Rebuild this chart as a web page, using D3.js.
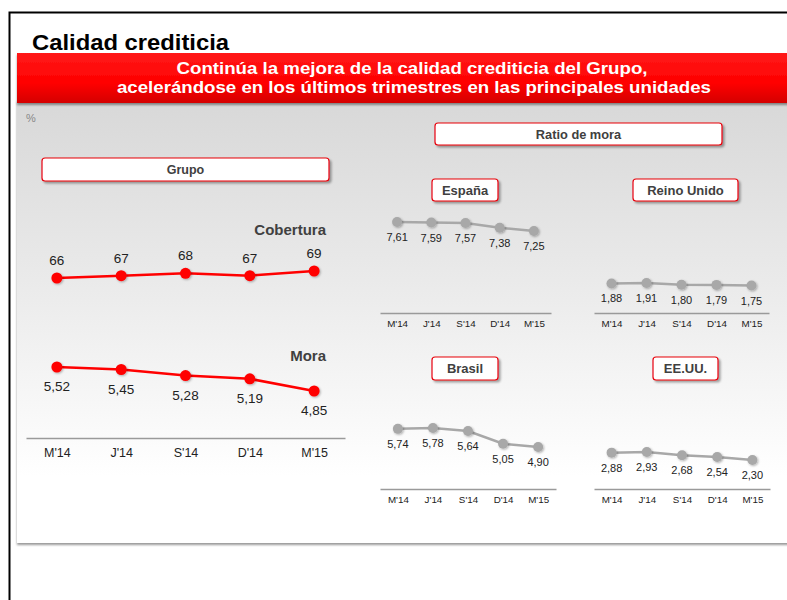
<!DOCTYPE html>
<html><head><meta charset="utf-8">
<script src="https://cdn.jsdelivr.net/npm/d3@7"></script>
<style>body{margin:0;background:#fff}svg{display:block;font-family:Arial,"Liberation Sans",sans-serif}</style>
</head><body>
<svg id="c" width="787" height="600"></svg>
<script>
const quarters = ["M'14","J'14","S'14","D'14","M'15"];
const grupoCobertura = [66,67,68,67,69];
const grupoMora = [5.52,5.45,5.28,5.19,4.85];
const espana = [7.61,7.59,7.57,7.38,7.25];
const reinoUnido = [1.88,1.91,1.80,1.79,1.75];
const brasil = [5.74,5.78,5.64,5.05,4.90];
const eeuu = [2.88,2.93,2.68,2.54,2.30];

const fmt2 = d3.formatLocale({decimal:",",thousands:".",grouping:[3],currency:["","€"]}).format(".2f");
const fmt0 = d3.format("d");

const svg = d3.select("#c");
const defs = svg.append("defs");
const gGray = defs.append("linearGradient").attr("id","gpanel").attr("x1",0).attr("y1",0).attr("x2",0).attr("y2",1);
gGray.append("stop").attr("offset","0%").attr("stop-color","#d8d8d8");
gGray.append("stop").attr("offset","45%").attr("stop-color","#ececec");
gGray.append("stop").attr("offset","85%").attr("stop-color","#ffffff");
gGray.append("stop").attr("offset","100%").attr("stop-color","#ffffff");
const gRed = defs.append("linearGradient").attr("id","gred").attr("x1",0).attr("y1",0).attr("x2",0).attr("y2",1);
gRed.append("stop").attr("offset","0%").attr("stop-color","#ff1a1a");
gRed.append("stop").attr("offset","60%").attr("stop-color","#ff0000");
gRed.append("stop").attr("offset","100%").attr("stop-color","#d40000");
const sh = defs.append("filter").attr("id","sh").attr("x","-10%").attr("y","-30%").attr("width","130%").attr("height","180%");
sh.append("feDropShadow").attr("dx",2).attr("dy",2).attr("stdDeviation",1.2).attr("flood-color","#000").attr("flood-opacity",0.35);
const sh2 = defs.append("filter").attr("id","sh2").attr("x","-5%").attr("y","-5%").attr("width","110%").attr("height","115%");
sh2.append("feDropShadow").attr("dx",0).attr("dy",2).attr("stdDeviation",1.2).attr("flood-color","#000").attr("flood-opacity",0.4);
const shd = defs.append("filter").attr("id","shd").attr("x","-50%").attr("y","-50%").attr("width","200%").attr("height","200%");
shd.append("feDropShadow").attr("dx",1).attr("dy",1).attr("stdDeviation",0.8).attr("flood-color","#000").attr("flood-opacity",0.3);

// frame
svg.append("rect").attr("x",9.5).attr("y",12.5).attr("width",800).attr("height",600).attr("fill","none").attr("stroke","#000").attr("stroke-width",2);
svg.append("text").attr("x",32).attr("y",50).attr("font-size",22).attr("font-weight","bold").attr("fill","#000")
  .attr("textLength",197).attr("lengthAdjust","spacingAndGlyphs").text("Calidad crediticia");

// gray panel
svg.append("rect").attr("x",17).attr("y",100).attr("width",780).attr("height",443).attr("fill","url(#gpanel)").attr("filter","url(#sh2)");
// red banner
svg.append("rect").attr("x",17).attr("y",53).attr("width",780).attr("height",50).attr("fill","url(#gred)").attr("filter","url(#sh2)");
svg.append("text").attr("x",412).attr("y",74).attr("text-anchor","middle").attr("font-size",16).attr("font-weight","bold").attr("fill","#fff")
  .attr("textLength",471).attr("lengthAdjust","spacingAndGlyphs").text("Continúa la mejora de la calidad crediticia del Grupo,");
svg.append("text").attr("x",414).attr("y",93).attr("text-anchor","middle").attr("font-size",16).attr("font-weight","bold").attr("fill","#fff")
  .attr("textLength",594).attr("lengthAdjust","spacingAndGlyphs").text("acelerándose en los últimos trimestres en las principales unidades");
svg.append("text").attr("x",26).attr("y",122).attr("font-size",11).attr("fill","#888").text("%");

function box(x,y,w,h,label,fs){
  svg.append("rect").attr("x",x).attr("y",y).attr("width",w).attr("height",h).attr("rx",3)
    .attr("fill","#fff").attr("stroke","#e8000d").attr("stroke-width",1.2).attr("filter","url(#sh)");
  svg.append("text").attr("x",x+w/2).attr("y",y+h/2+fs*0.36).attr("text-anchor","middle")
    .attr("font-size",fs).attr("font-weight","bold").attr("fill","#404040").text(label);
}
box(42,158,287,23,"Grupo",12.5);
box(435,123,287,22,"Ratio de mora",12.8);
box(432,179,66,22,"España",13);
box(633,179,105,22,"Reino Unido",13);
box(432,357,66,23,"Brasil",13);
box(653,357,65,23,"EE.UU.",13);

function axis(x, y, fs, dy){
  const g = svg.append("g").attr("transform",`translate(0,${y})`)
    .call(d3.axisBottom(x).tickSize(0).tickSizeOuter(0).tickPadding(dy));
  g.select(".domain").attr("stroke","#9a9a9a").attr("stroke-width",1.5);
  g.selectAll("text").attr("font-size",fs).attr("fill","#222").attr("font-family","Arial,'Liberation Sans',sans-serif");
}

function series(x, y, data, color, lw, r, fs, dyLabel, fmt){
  const line = d3.line().x((d,i)=>x(quarters[i])).y(d=>y(d));
  svg.append("path").datum(data).attr("d",line).attr("fill","none").attr("stroke",color).attr("stroke-width",lw);
  svg.append("g").selectAll("circle").data(data).join("circle")
    .attr("cx",(d,i)=>x(quarters[i])).attr("cy",d=>y(d)).attr("r",r).attr("fill",color).attr("filter","url(#shd)");
  svg.append("g").selectAll("text").data(data).join("text")
    .attr("x",(d,i)=>x(quarters[i])).attr("y",d=>y(d)+dyLabel).attr("text-anchor","middle")
    .attr("font-size",fs).attr("fill","#222").text(d=>fmt(d));
}

// Grupo
const xG = d3.scalePoint().domain(quarters).range([26,345]).padding(0.48);
const yCob = d3.scaleLinear().domain(d3.extent(grupoCobertura)).range([278,271]);
const yMora = d3.scaleLinear().domain(d3.extent(grupoMora)).range([391,367]);
series(xG, yCob, grupoCobertura, "#ff0000", 2.5, 5.5, 13.5, -13, fmt0);
series(xG, yMora, grupoMora, "#ff0000", 2.5, 5.5, 13.5, 24, fmt2);
axis(xG, 438, 12.5, 10);
svg.append("text").attr("x",326).attr("y",235).attr("text-anchor","end").attr("font-size",15).attr("font-weight","bold").attr("fill","#404040").text("Cobertura");
svg.append("text").attr("x",326).attr("y",361).attr("text-anchor","end").attr("font-size",15).attr("font-weight","bold").attr("fill","#404040").text("Mora");

// small charts
const gray = "#a8a8a8";
function small(data, x0, x1, pad, axisY, yTop, yBot){
  const x = d3.scalePoint().domain(quarters).range([x0,x1]).padding(pad);
  const y = d3.scaleLinear().domain(d3.extent(data)).range([yBot,yTop]);
  series(x, y, data, gray, 2.5, 5, 11, 19, fmt2);
  axis(x, axisY, 9.8, 7.5);
}
small(espana, 380, 551, 0.5, 313, 222, 231);
small(reinoUnido, 594, 769, 0.5, 313, 283, 285.5);
small(brasil, 380, 556, 0.51, 489, 428, 447);
small(eeuu, 594, 770, 0.5, 489, 452, 460);
</script>
</body></html>
